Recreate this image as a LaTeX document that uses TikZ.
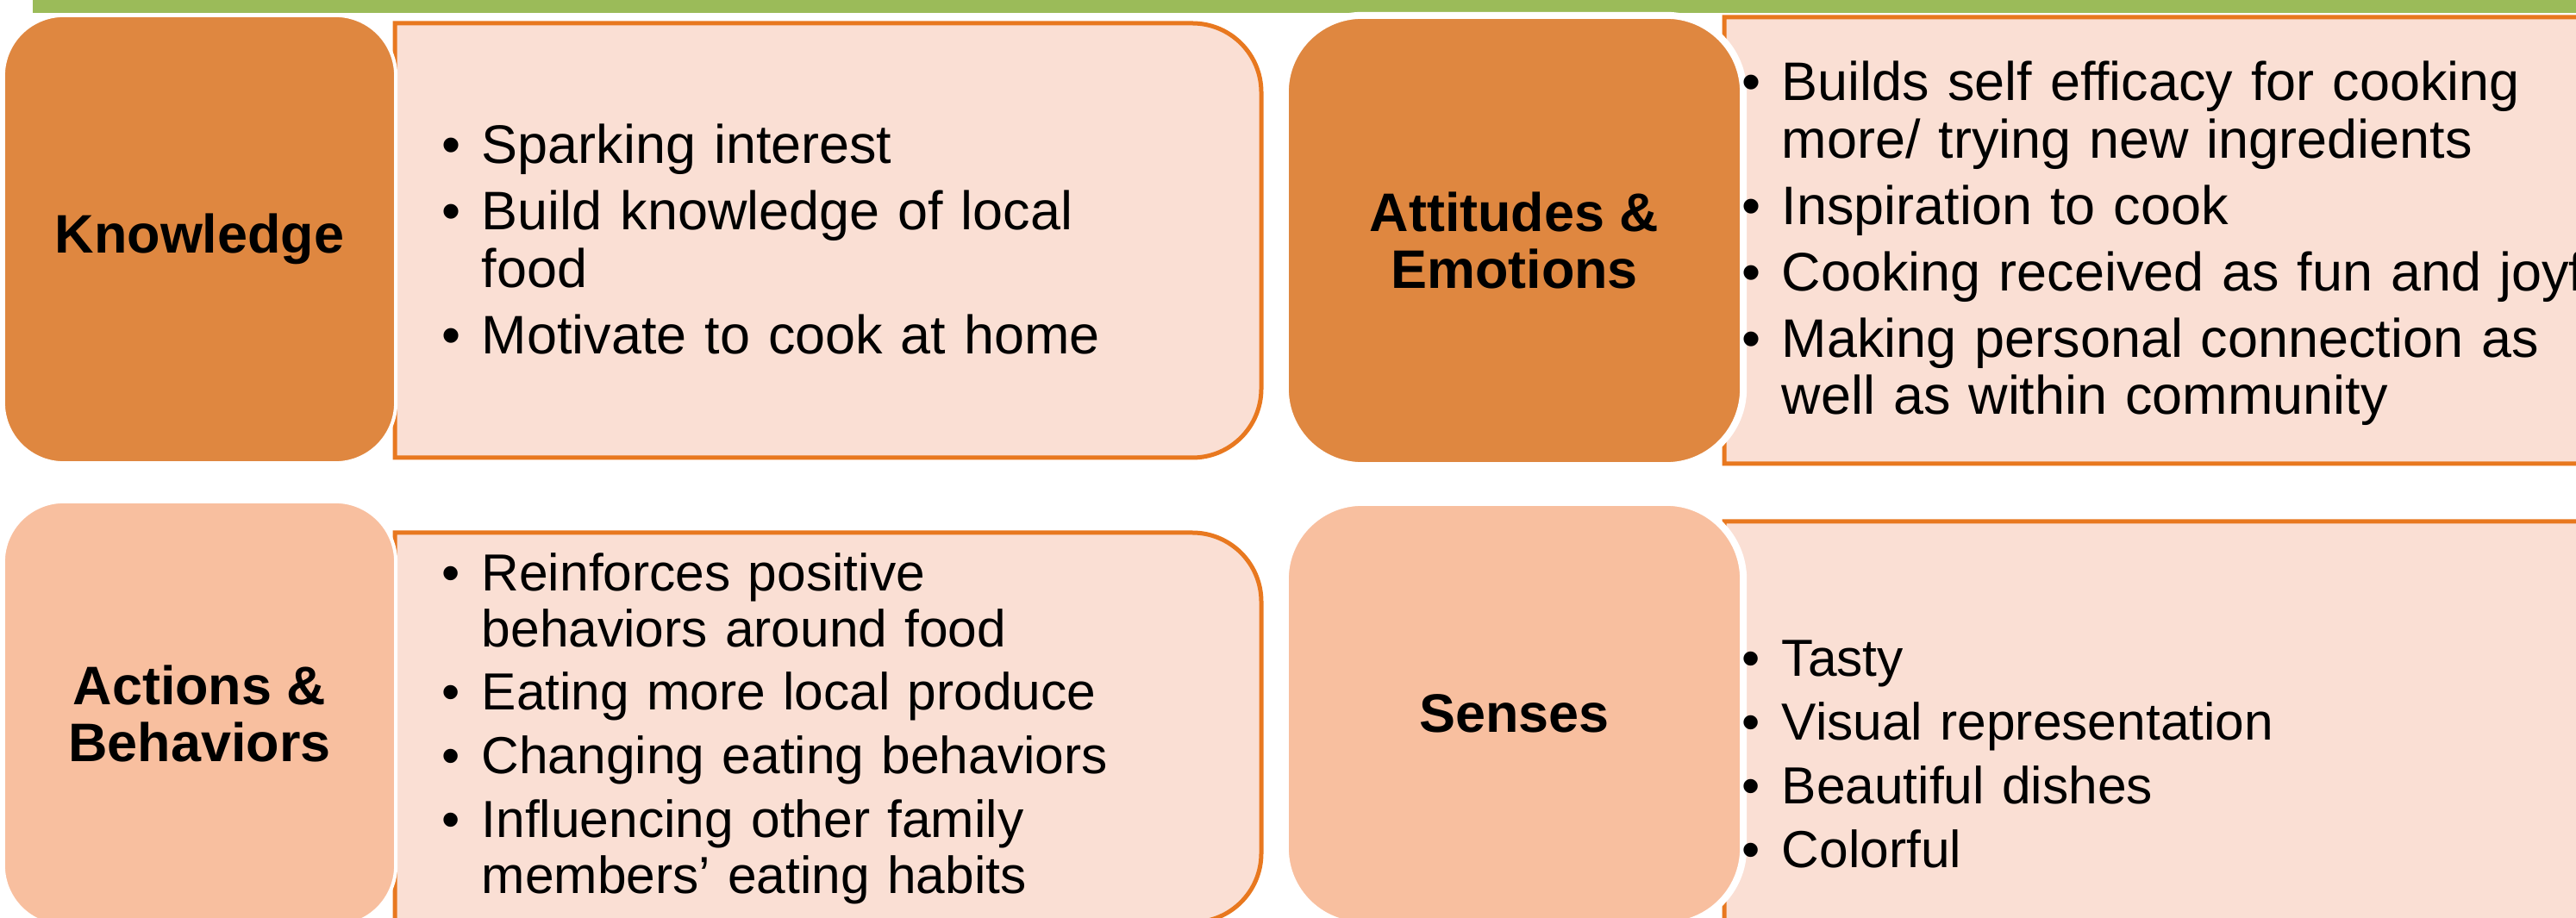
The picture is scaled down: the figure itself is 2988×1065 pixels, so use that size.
\documentclass[tikz,border=0pt]{standalone}
\usepackage{fontspec}
\setmainfont{Liberation Sans}
\usetikzlibrary{shadows}

\definecolor{barGreen}{HTML}{9BBB59}
\definecolor{darkOrange}{HTML}{DF8740}
\definecolor{lightOrange}{HTML}{F8BF9F}
\definecolor{panelFill}{HTML}{FADFD4}
\definecolor{panelLine}{HTML}{E8781F}

% one bullet point, wrapped lines hang under the text
\newcommand{\bitem}[1]{\noindent\hangindent=0.46cm\hangafter=1\strut\makebox[0.46cm][l]{\textbullet}#1\par}

% panel: square on the left, rounded on the right (x1,y1,x2,y2)
\newcommand{\listpanel}[4]{%
  \filldraw[panel] (#1,#2) -- (#3-80,#2) arc[start angle=-90,end angle=0,radius=80]
    -- (#3,#4-80) arc[start angle=0,end angle=90,radius=80] -- (#1,#4) -- cycle;}

\begin{document}
\begin{tikzpicture}[x=0.01cm,y=-0.01cm,
  tile/.style={draw=white,line width=0.04cm,rounded corners=0.7cm,align=center,inner sep=0pt,
    font=\bfseries\fontsize{17.9}{18.8}\selectfont},
  ringtile/.style={tile,line width=0.08cm,rounded corners=0.89cm,
    drop shadow={shadow xshift=0.01cm,shadow yshift=-0.03cm,opacity=0.25,fill=gray}},
  panel/.style={fill=panelFill,draw=panelLine,line width=0.05cm},
  bullets/.style={anchor=north west,inner sep=0pt,text width=11cm,align=left,
    font=\fontsize{17.9}{18.8}\selectfont,execute at begin node={\setlength{\parskip}{3.1pt}}},
  lowbullets/.style={bullets,font=\fontsize{17.2}{18.3}\selectfont,
    execute at begin node={\setlength{\parskip}{2.7pt}}}]
  \useasboundingbox (0,0) rectangle (2988,1065);

  \fill[barGreen] (38,-10) rectangle (3000,15);

  \listpanel{458}{27}{1463}{531}
  \listpanel{2000}{20}{3080}{538}
  \listpanel{458}{618}{1463}{1070}
  \listpanel{2000}{605}{3080}{1140}

  \node[tile,fill=darkOrange,minimum width=4.55cm,minimum height=5.19cm] (know) at (231.5,277.5) {Knowledge};
  \node[ringtile,fill=darkOrange,minimum width=5.31cm,minimum height=5.22cm] (att) at (1756.5,279) {Attitudes \&\\Emotions};
  \node[tile,fill=lightOrange,minimum width=4.55cm,minimum height=4.92cm] (act) at (231.5,828) {Actions \&\\Behaviors};
  \node[ringtile,fill=lightOrange,minimum width=5.31cm,minimum height=4.90cm] (sen) at (1756.5,828) {Senses};

  \node[bullets] (knowList) at (512,143) {\bitem{Sparking interest}
    \bitem{Build knowledge of local\newline food}
    \bitem{Motivate to cook at home}};
  \node[bullets] (attList) at (2020,70) {\bitem{Builds self efficacy for cooking\newline more/ trying new ingredients}
    \bitem{Inspiration to cook}
    \bitem{Cooking received as fun and joyful}
    \bitem{Making personal connection as\newline well as within community}};
  \node[lowbullets] (actList) at (512,640) {\bitem{Reinforces positive\newline behaviors around food}
    \bitem{Eating more local produce}
    \bitem{Changing eating behaviors}
    \bitem{Influencing other family\newline members’ eating habits}};
  \node[lowbullets] (senList) at (2020,739) {\bitem{Tasty}
    \bitem{Visual representation}
    \bitem{Beautiful dishes}
    \bitem{Colorful}};
\end{tikzpicture}
\end{document}
